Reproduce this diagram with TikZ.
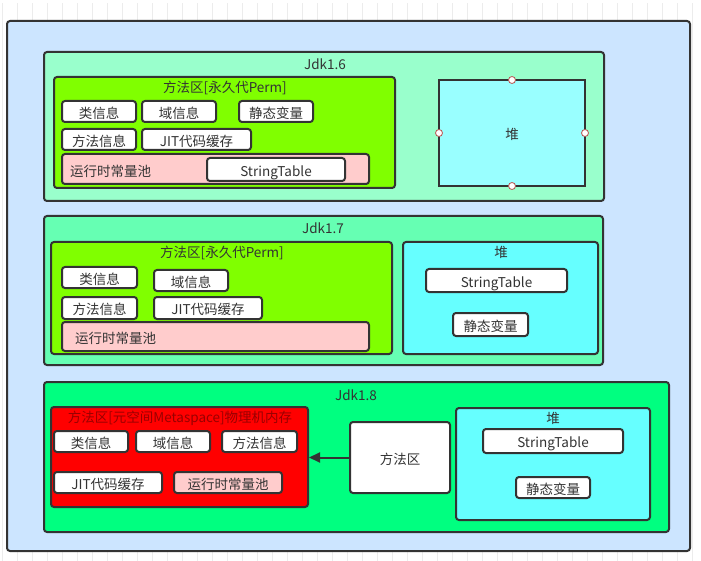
\documentclass[tikz,border=0pt]{standalone}
\usepackage{fontspec}
\setmainfont{Noto Sans CJK SC}
\usetikzlibrary{arrows.meta}
\definecolor{ink}{HTML}{333333}
\definecolor{outerbg}{HTML}{CCE5FF}
\definecolor{jdkA}{HTML}{99FFCC}
\definecolor{jdkB}{HTML}{66FFB3}
\definecolor{jdkC}{HTML}{00FF80}
\definecolor{permg}{HTML}{80FF00}
\definecolor{pinkc}{HTML}{FFCCCC}
\definecolor{heapA}{HTML}{99FFFF}
\definecolor{heapB}{HTML}{66FFFF}
\definecolor{redc}{HTML}{FF0000}
\definecolor{darkredt}{HTML}{990000}
\definecolor{gridc}{HTML}{ECECEC}
\definecolor{handle}{HTML}{B85450}
\newcommand\boxat[7]{\node[#2, anchor=north west, inner sep=0pt, outer sep=0pt,
  minimum width={(#5-#3)*1pt}, minimum height={(#6-#4)*1pt}] (#1) at (#3,#4) {#7};}
\tikzset{
  frame/.style={draw=ink, line width=2pt, rounded corners=3pt},
  wbox/.style={frame, fill=white, font=\fontsize{13.5}{15}\selectfont, text=ink,
    text height=15pt, text depth=1.8pt},
  sqbox/.style={draw=ink, line width=2pt},
  lbl/.style={font=\fontsize{13.5}{15}\selectfont, text=ink, inner sep=0pt,
    text height=12pt, text depth=1.8pt},
  hdl/.style={circle, draw=handle, fill=white, line width=0.8pt, minimum size=7pt, inner sep=0pt},
}
\begin{document}
\begin{tikzpicture}[x=1pt,y=-1pt]
\useasboundingbox (0,0) rectangle (701,561);
\fill[white] (0,0) rectangle (701,561);
\draw[gridc, line width=0.6pt, shift={(2.3,3)}] (0,0) grid[step=15] (699,558);
% outer
\boxat{outer}{frame, fill=outerbg}{7}{21}{690}{551}{}
% ---------- Jdk1.6
\boxat{j16}{frame, fill=jdkA}{44}{52}{604}{201}{}
\node[lbl] (j16t) at (325,64) {Jdk1.6};
\boxat{p16}{frame, fill=permg}{54}{77}{395}{188}{}
\node[lbl] (p16t) at (225,87) {方法区[永久代Perm]};
\boxat{a16}{wbox}{62}{101}{136}{122}{类信息}
\boxat{b16}{wbox}{142}{101}{216}{122}{域信息}
\boxat{c16}{wbox}{239}{101}{313}{122}{静态变量}
\boxat{d16}{wbox}{62}{129}{136}{150}{方法信息}
\boxat{e16}{wbox}{142}{129}{251}{150}{JIT代码缓存}
\boxat{r16}{frame, fill=pinkc}{62}{154}{369}{184}{}
\node[lbl, anchor=west] (r16t) at (70,171) {运行时常量池};
\boxat{s16}{wbox}{207}{158}{345}{181}{StringTable}
\boxat{h16}{sqbox, fill=heapA}{439}{80}{585}{186}{}
\node[lbl] (h16t) at (512,134) {堆};
\node[hdl] (h16n) at (h16.north) {};
\node[hdl] (h16s) at (h16.south) {};
\node[hdl] (h16w) at (h16.west) {};
\node[hdl] (h16e) at (h16.east) {};
% ---------- Jdk1.7
\boxat{j17}{frame, fill=jdkB}{44}{216}{603}{365}{}
\node[lbl] (j17t) at (323,228) {Jdk1.7};
\boxat{p17}{frame, fill=permg}{51}{242}{392}{354}{}
\node[lbl] (p17t) at (222,252) {方法区[永久代Perm]};
\boxat{a17}{wbox}{62}{267}{137}{288}{类信息}
\boxat{b17}{wbox}{154}{270}{228}{291}{域信息}
\boxat{d17}{wbox}{62}{297}{137}{319}{方法信息}
\boxat{e17}{wbox}{154}{297}{262}{319}{JIT代码缓存}
\boxat{r17}{frame, fill=pinkc}{62}{322}{369}{351}{}
\node[lbl, anchor=west] (r17t) at (75,338) {运行时常量池};
\boxat{h17}{frame, fill=heapB}{403}{242}{598}{354}{}
\node[lbl] (h17t) at (501,252) {堆};
\boxat{s17}{wbox}{426}{269}{567}{292}{StringTable}
\boxat{c17}{wbox}{453}{313}{528}{336}{静态变量}
% ---------- Jdk1.8
\boxat{j18}{frame, fill=jdkC}{44}{382}{669}{532}{}
\node[lbl] (j18t) at (356,395) {Jdk1.8};
\boxat{m18}{frame, fill=redc}{51}{407}{308}{507}{}
\node[lbl, text=darkredt] (m18t) at (180,417) {方法区[元空间Metaspace]物理机内存};
\boxat{a18}{wbox}{54}{431}{128}{452}{类信息}
\boxat{b18}{wbox}{136}{431}{210}{452}{域信息}
\boxat{d18}{wbox}{222}{431}{297}{452}{方法信息}
\boxat{e18}{wbox}{54}{472}{162}{493}{JIT代码缓存}
\boxat{r18}{wbox, fill=pinkc}{174}{472}{282}{493}{运行时常量池}
\boxat{f18}{wbox}{350}{422}{450}{493}{方法区}
\boxat{h18}{frame, fill=heapB}{456}{408}{650}{520}{}
\node[lbl] (h18t) at (553,418) {堆};
\boxat{s18}{wbox}{483}{429}{623}{453}{StringTable}
\boxat{c18}{wbox}{516}{477}{590}{498}{静态变量}
\draw[ink, line width=2pt, -{Triangle[length=11pt,width=10pt]}] (f18.west) -- ([xshift=1pt]m18.east |- f18.west);
\end{tikzpicture}
\end{document}
